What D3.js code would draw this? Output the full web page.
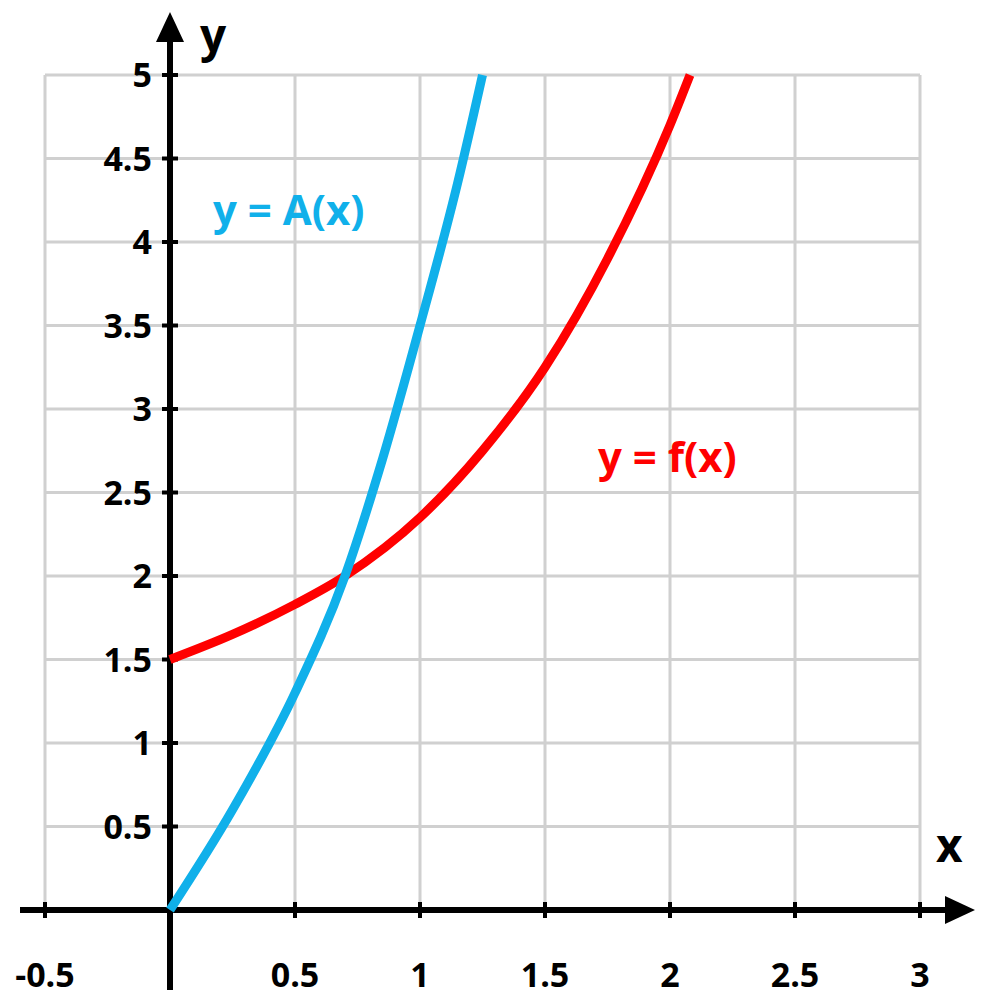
<!DOCTYPE html>
<html><head><meta charset="utf-8">
<script src="https://cdn.jsdelivr.net/npm/d3@7"></script>
<style>body{margin:0;background:#fff}</style>
</head><body>
<svg width="992" height="1000"></svg>
<script>
const xTicks = [-0.5, 0.5, 1, 1.5, 2, 2.5, 3];
const yTicks = [0.5, 1, 1.5, 2, 2.5, 3, 3.5, 4, 4.5, 5];
const fPoints = [[0,1.5],[0.25,1.65],[0.5,1.83],[0.7,2.0],[1,2.35],[1.25,2.75],[1.5,3.25],[1.75,3.9],[2,4.7],[2.08,5]];
const aPoints = [[0,0],[0.25,0.6],[0.5,1.3],[0.7,2.0],[0.85,2.7],[1,3.5],[1.15,4.35],[1.25,5]];

function draw() {
  const svg = d3.select("svg");
  const x = d3.scaleLinear().domain([-0.5, 3]).range([45, 920]);
  const y = d3.scaleLinear().domain([0, 5]).range([910, 75]);
  const font = "'Open Sans', sans-serif";

  // grid
  const gridX = d3.range(-0.5, 3.01, 0.5);
  svg.selectAll(".gx").data(gridX).join("line")
    .attr("x1", d => x(d)).attr("x2", d => x(d))
    .attr("y1", y(0)).attr("y2", y(5))
    .attr("stroke", "#d0d0d0").attr("stroke-width", 3);
  svg.selectAll(".gy").data(yTicks).join("line")
    .attr("x1", x(-0.5)).attr("x2", x(3))
    .attr("y1", d => y(d)).attr("y2", d => y(d))
    .attr("stroke", "#d0d0d0").attr("stroke-width", 3);

  // axes
  svg.append("line").attr("x1", 20).attr("x2", 955)
    .attr("y1", y(0)).attr("y2", y(0)).attr("stroke", "#000").attr("stroke-width", 6);
  svg.append("path").attr("d", `M975,${y(0)} L945,${y(0) - 14} L945,${y(0) + 14} Z`);
  svg.append("line").attr("x1", x(0)).attr("x2", x(0))
    .attr("y1", 990).attr("y2", 35).attr("stroke", "#000").attr("stroke-width", 6);
  svg.append("path").attr("d", `M${x(0)},12 L${x(0) - 14},42 L${x(0) + 14},42 Z`);

  // tick marks
  svg.selectAll(".tx").data(xTicks).join("line")
    .attr("x1", d => x(d)).attr("x2", d => x(d))
    .attr("y1", y(0) - 8).attr("y2", y(0) + 8)
    .attr("stroke", "#000").attr("stroke-width", 4);
  svg.selectAll(".ty").data(yTicks).join("line")
    .attr("x1", x(0) - 8).attr("x2", x(0) + 8)
    .attr("y1", d => y(d)).attr("y2", d => y(d))
    .attr("stroke", "#000").attr("stroke-width", 4);

  // tick labels
  svg.selectAll(".lx").data(xTicks).join("text")
    .attr("x", d => x(d)).attr("y", 987)
    .attr("text-anchor", "middle").attr("font-family", font)
    .attr("font-weight", "bold").attr("font-size", 34)
    .text(d => d);
  svg.selectAll(".ly").data(yTicks).join("text")
    .attr("x", 152).attr("y", d => y(d) + 12)
    .attr("text-anchor", "end").attr("font-family", font)
    .attr("font-weight", "bold").attr("font-size", 34)
    .text(d => d);

  svg.append("text").attr("x", 200).attr("y", 52).attr("font-family", font)
    .attr("font-weight", "bold").attr("font-size", 46).text("y");
  svg.append("text").attr("x", 936).attr("y", 862).attr("font-family", font)
    .attr("font-weight", "bold").attr("font-size", 46).text("x");

  // curves
  const line = d3.line().x(d => x(d[0])).y(d => y(d[1])).curve(d3.curveMonotoneX);
  svg.append("path").attr("d", line(fPoints)).attr("fill", "none")
    .attr("stroke", "#ff0000").attr("stroke-width", 9);
  svg.append("path").attr("d", line(aPoints)).attr("fill", "none")
    .attr("stroke", "#10b0ea").attr("stroke-width", 9);

  svg.append("text").attr("x", 213).attr("y", 225).attr("font-family", font)
    .attr("font-weight", "bold").attr("font-size", 42).attr("fill", "#10b0ea")
    .text("y = A(x)");
  svg.append("text").attr("x", 598).attr("y", 472).attr("font-family", font)
    .attr("font-weight", "bold").attr("font-size", 42).attr("fill", "#ff0000")
    .text("y = f(x)");
}

window.onload = draw;
</script>
</body></html>
